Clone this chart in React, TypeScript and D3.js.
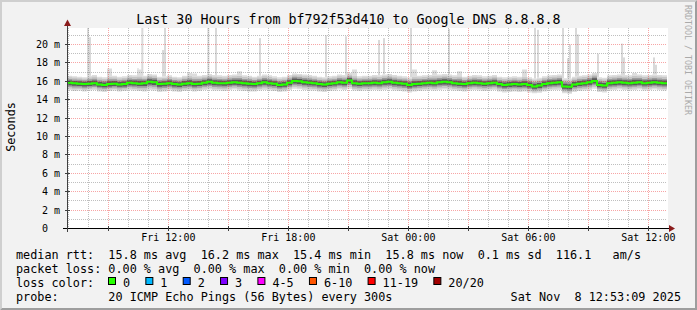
import React from 'react';
import * as d3 from 'd3';

const TITLE = 'Last 30 Hours from bf792f53d410 to Google DNS 8.8.8.8';
const Y_LABEL = 'Seconds';
const WATERMARK = 'RRDTOOL / TOBI OETIKER';
const START = new Date(2025, 10, 7, 6, 56, 0);
const END = new Date(2025, 10, 8, 12, 56, 0);
const STEP_MIN = 15;

// median rtt per 15-minute step (ms)
const median = [
  15.85, 15.8, 15.75, 15.7, 15.75, 15.8, 15.65, 15.6, 15.7, 15.75,
  15.65, 15.7, 15.85, 15.8, 15.75, 15.8, 15.95, 15.9, 15.7, 15.75,
  15.8, 15.7, 15.65, 15.75, 15.8, 15.7, 15.75, 15.85, 15.95, 15.85,
  15.8, 15.8, 15.85, 15.9, 15.85, 15.8, 15.75, 15.7, 15.8, 15.9,
  15.8, 15.75, 15.6, 15.65, 15.85, 16.05, 16.0, 15.9, 15.85, 15.8,
  15.7, 15.65, 15.75, 15.8, 15.9, 15.85, 16.1, 15.8, 15.75, 15.8,
  15.8, 15.85, 15.8, 15.9, 15.95, 15.85, 15.8, 15.75, 15.6, 15.7,
  15.75, 15.8, 15.85, 15.8, 15.9, 15.95, 15.9, 15.8, 15.75, 15.7,
  15.8, 15.85, 15.8, 15.75, 15.8, 15.85, 15.7, 15.6, 15.65, 15.7,
  15.65, 15.7, 15.6, 15.45, 15.55, 15.7, 15.8, 15.85, 15.9, 15.45,
  15.4, 15.65, 15.75, 15.8, 15.9, 16.05, 15.6, 15.55, 15.8, 15.85,
  15.9, 15.85, 15.8, 15.85, 15.9, 15.8, 15.85, 15.9, 15.85, 15.8,
];

// fastest ping per step (ms)
const pingMin = [
  15.05, 14.95, 15.0, 14.9, 15.0, 15.05, 14.9, 14.85, 14.95, 15.0,
  14.9, 14.95, 15.05, 15.0, 14.95, 14.9, 15.05, 15.0, 14.85, 14.9,
  15.0, 14.9, 14.85, 14.95, 15.0, 14.9, 14.95, 15.05, 15.1, 15.0,
  15.0, 14.95, 15.05, 15.1, 15.0, 14.95, 14.9, 14.9, 15.0, 15.05,
  15.0, 14.95, 14.85, 14.9, 15.05, 15.2, 15.15, 15.05, 15.0, 15.0,
  14.9, 14.85, 14.95, 15.0, 15.1, 15.05, 15.2, 15.0, 14.95, 15.0,
  15.0, 15.05, 15.0, 15.05, 15.1, 15.0, 14.95, 14.9, 14.8, 14.9,
  14.95, 15.0, 15.05, 15.0, 15.05, 15.1, 15.05, 15.0, 14.95, 14.9,
  15.0, 15.05, 15.0, 14.95, 15.0, 15.05, 14.9, 14.8, 14.85, 14.9,
  14.85, 14.9, 14.8, 14.7, 14.75, 14.9, 15.0, 15.05, 15.05, 14.7,
  14.65, 14.85, 14.95, 15.0, 15.05, 15.2, 14.85, 14.8, 15.0, 15.05,
  15.1, 15.05, 15.0, 15.05, 15.1, 15.0, 15.05, 15.1, 15.05, 15.0,
];

// slowest ping per step (ms)
const pingMax = [
  16.6, 16.55, 16.5, 16.45, 16.6, 16.7, 16.5, 16.45, 17.4, 16.6,
  16.5, 16.55, 16.7, 16.65, 17.3, 16.6, 16.8, 16.75, 16.5, 16.55,
  16.65, 16.5, 16.45, 16.6, 16.9, 16.85, 16.6, 16.7, 16.8, 16.7,
  16.65, 16.6, 16.7, 16.75, 17.1, 16.65, 16.6, 16.5, 16.6, 16.75,
  16.65, 16.55, 16.45, 16.5, 16.7, 16.85, 16.8, 16.75, 16.7, 16.6,
  16.5, 16.45, 16.55, 16.6, 16.75, 16.7, 16.9, 17.3, 16.55, 16.6,
  16.6, 16.7, 16.65, 16.75, 16.8, 16.7, 16.6, 16.55, 16.45, 17.3,
  16.6, 16.65, 16.7, 17.2, 16.75, 16.8, 16.75, 16.65, 17.1, 16.5,
  16.6, 16.7, 16.65, 16.55, 16.6, 16.7, 16.5, 16.45, 16.5, 16.55,
  16.5, 17.3, 16.45, 16.3, 16.4, 16.55, 16.65, 16.7, 16.75, 16.35,
  16.3, 16.5, 16.6, 16.65, 16.75, 16.9, 16.45, 16.4, 16.65, 16.7,
  16.75, 16.7, 16.65, 16.9, 16.75, 16.65, 16.7, 16.75, 16.7, 16.65,
];

// isolated slow pings: hours after graph start, value (ms)
const spikeHours = [1.05, 1.15, 2.05, 3.55, 3.77, 4.8, 4.9, 7.07, 7.45, 9.65, 12.95, 13.95, 15.6, 15.85, 17.2, 19.1, 23.4, 23.55, 24.8, 25.05, 25.15, 25.45, 25.55, 26.55, 27.75, 27.85, 29.35, 29.45];
const spikeValues = [23, 20.8, 17.4, 17.4, 23, 19.4, 23, 23, 23, 20.7, 21.0, 20.9, 20.5, 20.7, 21.9, 21.7, 23, 21.6, 23, 18.5, 20.0, 23, 21.1, 19.0, 20.1, 18.6, 18.6, 17.8];

const yMinor = d3.range(1, 22, 1);
const yMajor = d3.range(0, 21, 2);

const rttStats = ['15.8', '16.2', '15.4', '15.8'];
const rttSd = '0.1';
const amPerS = '116.1';
const lossStats = ['0.00', '0.00', '0.00', '0.00'];
const statNames = ['avg', 'max', 'min', 'now'];
const lossLabels = ['0', '1', '2', '3', '4-5', '6-10', '11-19', '20/20'];
const lossColors = ['#26ff00', '#00b8ff', '#0059ff', '#7e00ff', '#ff00ff', '#ff5500', '#ff0000', '#a10000'];
const probeText = '20 ICMP Echo Pings (56 Bytes) every 300s';
const stampText = 'Sat Nov  8 12:53:09 2025';

const MONO = '"DejaVu Sans Mono", "Liberation Mono", monospace';

export default function App() {
  const W = 697, H = 310;
  const L = 67, R = 667, T = 28, B = 228.5;
  const x = d3.scaleTime().domain([START, END]).range([L, R]);
  const y = d3.scaleLinear().domain([0, 21.8]).range([B, T]);
  const px = (v: number) => Math.round(v - 0.5) + 0.5;
  const N = median.length;
  const idx = d3.range(N + 1);
  const tAt = (i: number) => d3.timeMinute.offset(START, i * STEP_MIN);
  const val = (arr: number[], i: number) => arr[Math.min(i, N - 1)];

  // inner smoke layers: share of the spread between median and extreme ping,
  // with the spread capped so that single slow pings do not darken the band
  const layer = (f: number, cap: number) =>
    d3.area<number>()
      .curve(d3.curveStepAfter)
      .x(i => x(tAt(i)))
      .y0(i => y(val(median, i) - f * Math.min(cap, val(median, i) - val(pingMin, i))))
      .y1(i => y(val(median, i) + f * Math.min(cap, val(pingMax, i) - val(median, i))))(idx) || '';

  const layers = [
    { f: 1, cap: 99, c: '#dddddd' },
    { f: 0.78, cap: 0.95, c: '#c6c6c6' },
    { f: 0.55, cap: 0.95, c: '#9c9c9c' },
    { f: 0.33, cap: 0.95, c: '#5a5a5a' },
  ];

  const medLine = d3.line<number>()
    .curve(d3.curveStepAfter)
    .x(i => x(tAt(i)))
    .y(i => y(val(median, i)))(idx) || '';

  const hours = d3.timeHour.range(START, END);
  const minorX = hours.filter(h => h.getHours() % 3 !== 0);
  const majorX = hours.filter(h => h.getHours() % 3 === 0);
  const labelX = hours.filter(h => h.getHours() % 6 === 0);
  const fmt = d3.timeFormat('%a %H:%M');

  const spikes = spikeHours.map((h, k) => {
    const t = d3.timeMinute.offset(START, h * 60);
    const si = Math.min(N - 1, Math.floor((h * 60) / STEP_MIN));
    return { xp: x(t), top: y(spikeValues[k]), base: y(pingMax[si]) };
  });

  const row1 = `median rtt:  ${rttStats.map((s, k) => `${s} ms ${statNames[k]}`).join('  ')}  ${rttSd} ms sd  ${amPerS}   am/s`;
  const row2 = `packet loss: ${lossStats.map((s, k) => `${s} % ${statNames[k]}`).join('  ')}`;
  const row4 = `probe:       ${probeText}`;

  let bx = 108.5;
  const boxes = lossLabels.map((lab, k) => {
    const b = { x: bx, lab, c: lossColors[k] };
    bx += 30.25 + 7.1 * lab.length;
    return b;
  });

  const legendFont = { fontFamily: MONO, fontSize: 11.8, whiteSpace: 'pre' as const };

  return (
    <svg width={W} height={H} style={{ position: 'absolute', left: 0, top: 0, display: 'block' }}>
      <defs>
        <clipPath id="plotclip">
          <rect x={L} y={T} width={R - L} height={B - T} />
        </clipPath>
      </defs>
      <rect x={0} y={0} width={W} height={H} fill="#f2f2f2" />
      <polygon points={`0,0 ${W},0 ${W - 2},2 2,2 2,${H - 2} 0,${H}`} fill="#cfcfcf" />
      <polygon points={`${W},0 ${W},${H} 0,${H} 2,${H - 2} ${W - 2},${H - 2} ${W - 2},2`} fill="#9e9e9e" />
      <rect x={L} y={T} width={R - L + 1} height={B - T} fill="#ffffff" />

      <g clipPath="url(#plotclip)">
        {spikes.map((s, k) => (
          <rect key={k} x={s.xp - 1} y={s.top} width={2} height={Math.max(0, s.base - s.top)} fill="#d9d9d9" />
        ))}
        {layers.map((l, k) => (
          <path key={k} d={layer(l.f, l.cap)} fill={l.c} />
        ))}
      </g>

      <g>
        {minorX.map((t, k) => (
          <line key={'mx' + k} x1={px(x(t))} x2={px(x(t))} y1={T} y2={B} stroke="rgba(128,128,128,0.5)" strokeDasharray="1,1" />
        ))}
        {yMinor.filter(v => v % 2 !== 0).map(v => (
          <line key={'my' + v} x1={L} x2={R} y1={px(y(v))} y2={px(y(v))} stroke="rgba(128,128,128,0.5)" strokeDasharray="1,1" />
        ))}
        {majorX.map((t, k) => (
          <line key={'Mx' + k} x1={px(x(t))} x2={px(x(t))} y1={T} y2={B} stroke="rgba(235,40,40,0.42)" strokeDasharray="1,1" />
        ))}
        {yMajor.filter(v => v > 0).map(v => (
          <line key={'My' + v} x1={L} x2={R} y1={px(y(v))} y2={px(y(v))} stroke="rgba(235,40,40,0.42)" strokeDasharray="1,1" />
        ))}
      </g>

      <path d={medLine} fill="none" stroke={lossColors[0]} strokeWidth={2} clipPath="url(#plotclip)" />

      {/* axes */}
      <line x1={63} x2={670} y1={px(y(0))} y2={px(y(0))} stroke="#000" strokeWidth={1} />
      <line x1={67.5} x2={67.5} y1={232} y2={23} stroke="#404040" strokeWidth={1} />
      {yMajor.filter(v => v > 0).map(v => (
        <line key={'yt' + v} x1={65} x2={70} y1={px(y(v))} y2={px(y(v))} stroke="#404040" />
      ))}
      {majorX.map((t, k) => (
        <line key={'xt' + k} x1={px(x(t))} x2={px(x(t))} y1={226} y2={231} stroke="#404040" />
      ))}
      <polygon points="67.5,19.5 64,26 71,26" fill="#8b1c1c" />
      <polygon points="675,228.5 669,225 669,232" fill="#8b1c1c" />

      {/* tick labels */}
      {yMajor.map(v => (
        <text key={'yl' + v} x={60} y={px(y(v)) + 3.5} textAnchor="end" fontFamily={MONO} fontSize={10} fill="#000" style={{ whiteSpace: 'pre' }} xmlSpace="preserve">
          {v === 0 ? '0  ' : `${v} m`}
        </text>
      ))}
      {labelX.map((t, k) => (
        <text key={'xl' + k} x={x(t)} y={241} textAnchor="middle" fontFamily={MONO} fontSize={10} fill="#000">
          {fmt(t)}
        </text>
      ))}

      {/* titles */}
      <text x={348.5} y={23.5} textAnchor="middle" fontFamily={MONO} fontSize={13.3} fill="#000">{TITLE}</text>
      <text transform="translate(15,127) rotate(-90)" textAnchor="middle" fontFamily={MONO} fontSize={11.8} fill="#000">{Y_LABEL}</text>
      <text transform="translate(684.5,5) rotate(90)" textAnchor="start" fontFamily={MONO} fontSize={8.3} fill="#aaaaaa">{WATERMARK}</text>

      {/* legend */}
      <text x={16} y={258.5} {...legendFont} xmlSpace="preserve" fill="#000">{row1}</text>
      <text x={16} y={272.5} {...legendFont} xmlSpace="preserve" fill="#000">{row2}</text>
      <text x={16} y={286.5} {...legendFont} xmlSpace="preserve" fill="#000">loss color:</text>
      {boxes.map((b, k) => (
        <g key={'lb' + k}>
          <rect x={b.x} y={277.5} width={7} height={7} fill={b.c} stroke="#000" strokeWidth={1} />
          <text x={b.x + 14.5} y={286.5} {...legendFont} fill="#000">{b.lab}</text>
        </g>
      ))}
      <text x={16} y={300.5} {...legendFont} xmlSpace="preserve" fill="#000">{row4}</text>
      <text x={681} y={300.5} textAnchor="end" {...legendFont} xmlSpace="preserve" fill="#000">{stampText}</text>
    </svg>
  );
}
